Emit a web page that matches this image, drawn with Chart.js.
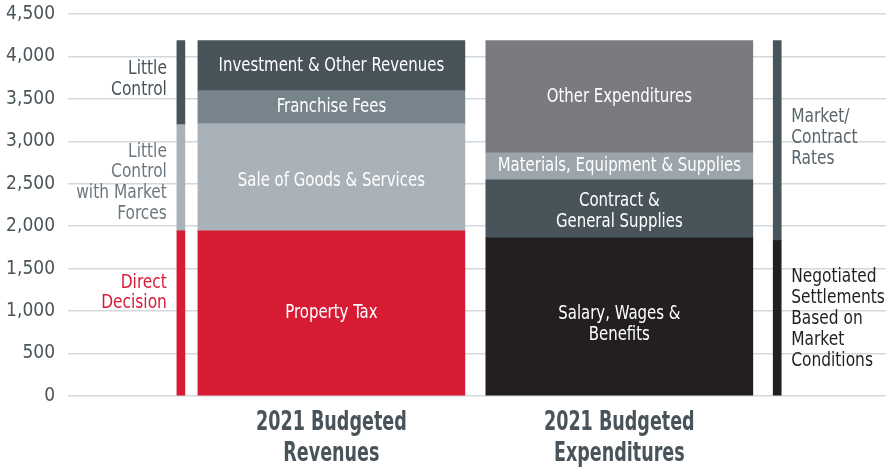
<!DOCTYPE html>
<html>
<head>
<meta charset="utf-8">
<script src="https://cdn.jsdelivr.net/npm/chart.js@4.4.0/dist/chart.umd.min.js"></script>
<style>
  html, body { margin: 0; padding: 0; background: #fff; }
  #wrap { width: 886px; height: 469px; }
</style>
</head>
<body>
<div id="wrap"><canvas id="budgetChart"></canvas></div>
<script>
// Daten
const yTicks = [0, 500, 1000, 1500, 2000, 2500, 3000, 3500, 4000, 4500];
const categories = [["2021 Budgeted", "Revenues"], ["2021 Budgeted", "Expenditures"]];

const revenueLabels = ["Property Tax", "Sale of Goods & Services", "Franchise Fees", "Investment & Other Revenues"];
const revenueValues = [1946, 1262, 389, 589];

const expenditureLabels = [["Salary, Wages &", "Benefits"], ["Contract &", "General Supplies"], "Materials, Equipment & Supplies", "Other Expenditures"];
const expenditureValues = [1863, 684, 319, 1320];

const controlLabels = [["Direct", "Decision"], ["Little", "Control", "with Market", "Forces"], ["Little", "Control"]];
const controlValues = [1946, 1250, 990];

const basisLabels = [["Negotiated", "Settlements", "Based on", "Market", "Conditions"], ["Market/", "Contract", "Rates"]];
const basisValues = [1830, 2356];

// Aussehen
const FONT = "'DejaVu Sans Condensed', 'DejaVu Sans', sans-serif";
const revenueColors = ["#d71b35", "#aab2b9", "#78848b", "#48535a"];
const expenditureColors = ["#231f20", "#485459", "#9ca5ab", "#7b7b7f"];
const controlColors = ["#d71b35", "#aab2b9", "#48535a"];
const controlTextColors = ["#d71b35", "#6d787e", "#48535a"];
const basisColors = ["#231f20", "#48535a"];
const basisTextColors = ["#231f20", "#5a656b"];

// x-Positionen auf einer 0..100 Achse
const slot = { control: 13.8, rev: 32.2, exp: 67.4, basis: 86.7 };
const catSlots = [slot.rev, slot.exp];
const MAIN_W = 267, SIDE_W = 8;

const revenueShift = [0, 4, 0, 0];
const expenditureShift = [8, 2, 0, 0];
const controlShift = [-20, 5, -3];
const basisShift = [1, -3];

function makeSets(xPos, values, labels, colors, width, extra) {
  return values.map((v, i) => Object.assign({
    label: Array.isArray(labels[i]) ? labels[i].join(" ") : labels[i],
    data: [{ x: xPos, y: v }],
    backgroundColor: colors[i],
    barThickness: width,
    grouped: false,
    segText: labels[i],
  }, extra(i)));
}

const datasets = [
  ...makeSets(slot.rev, revenueValues, revenueLabels, revenueColors, MAIN_W,
    (i) => ({ textMode: "inside", dy: revenueShift[i] })),
  ...makeSets(slot.exp, expenditureValues, expenditureLabels, expenditureColors, MAIN_W,
    (i) => ({ textMode: "inside", dy: expenditureShift[i] })),
  ...makeSets(slot.control, controlValues, controlLabels, controlColors, SIDE_W,
    (i) => ({ textMode: "left", textColor: controlTextColors[i], dy: controlShift[i] })),
  ...makeSets(slot.basis, basisValues, basisLabels, basisColors, SIDE_W,
    (i) => ({ textMode: "right", textColor: basisTextColors[i], dy: basisShift[i] })),
];

// schmale Schrift nachbilden: Text horizontal stauchen
function squeezeText(ctx, text, x, y, sx) {
  ctx.save();
  ctx.translate(x, y);
  ctx.scale(sx, 1);
  ctx.fillText(text, 0, 0);
  ctx.restore();
}

// Beschriftungen in und neben den Balken, Kategorien unter der Achse
const segmentText = {
  id: "segmentText",
  afterDatasetsDraw(chart) {
    const ctx = chart.ctx;
    chart.data.datasets.forEach((ds, di) => {
      const el = chart.getDatasetMeta(di).data[0];
      if (!el) return;
      const lines = Array.isArray(ds.segText) ? ds.segText : [ds.segText];
      const inside = ds.textMode === "inside";
      const lh = inside ? 21 : 20.8;
      const sx = inside ? 0.83 : 0.88;
      const cy = (el.y + el.base) / 2 + (ds.dy || 0);
      ctx.save();
      ctx.font = (inside ? "20px " : "19.5px ") + FONT;
      ctx.textBaseline = "middle";
      let x;
      if (inside) { ctx.textAlign = "center"; ctx.fillStyle = "#ffffff"; x = el.x; }
      else if (ds.textMode === "left") { ctx.textAlign = "right"; ctx.fillStyle = ds.textColor; x = el.x - el.width / 2 - 10; }
      else { ctx.textAlign = "left"; ctx.fillStyle = ds.textColor; x = el.x + el.width / 2 + 10; }
      const y0 = cy - (lines.length - 1) * lh / 2;
      lines.forEach((t, k) => squeezeText(ctx, t, x, y0 + k * lh, sx));
      ctx.restore();
    });

    const xScale = chart.scales.x;
    const bottom = chart.chartArea.bottom;
    ctx.save();
    ctx.font = "bold 26px " + FONT;
    ctx.fillStyle = "#48535a";
    ctx.textAlign = "center";
    ctx.textBaseline = "middle";
    categories.forEach((lines, i) => {
      const x = xScale.getPixelForValue(catSlots[i]);
      lines.forEach((t, k) => squeezeText(ctx, t, x, bottom + 27 + k * 31, 0.75));
    });
    ctx.restore();
  },
};

new Chart(document.getElementById("budgetChart").getContext("2d"), {
  type: "bar",
  data: { datasets: datasets },
  options: {
    responsive: true,
    maintainAspectRatio: false,
    animation: false,
    layout: { padding: { top: 14, right: 0, left: 0, bottom: 0 } },
    plugins: { legend: { display: false }, tooltip: { enabled: false } },
    scales: {
      x: {
        type: "linear",
        min: 0,
        max: 100,
        offset: false,
        grid: { display: false },
        border: { display: false },
        ticks: { display: false },
        afterFit: (scale) => { scale.height = 73; },
      },
      y: {
        stacked: true,
        min: 0,
        max: 4500,
        afterBuildTicks: (scale) => {
          scale.ticks = yTicks.map((v) => ({ value: v }));
        },
        afterFit: (scale) => {
          scale.width = 68;
          scale.paddingTop = 0;
          scale.paddingBottom = 0;
        },
        grid: { color: "#d3d8dc", lineWidth: 1.5, drawTicks: false },
        border: { display: false },
        ticks: {
          padding: 13,
          color: "#4a555b",
          font: { family: FONT, size: 19 },
          callback: (v) => v.toLocaleString("en-US"),
        },
      },
    },
  },
  plugins: [segmentText],
});
</script>
</body>
</html>
